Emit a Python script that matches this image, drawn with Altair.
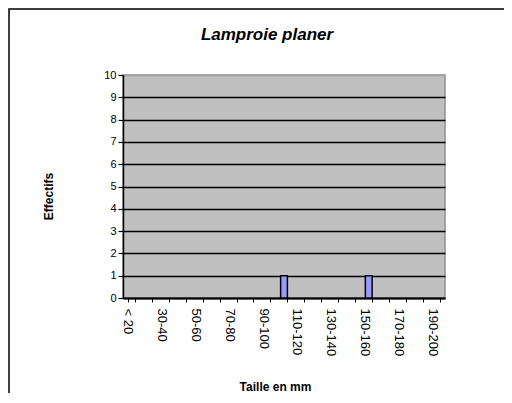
import altair as alt
import pandas as pd

categories = ["< 20", "20-30", "30-40", "40-50", "50-60", "60-70", "70-80",
              "80-90", "90-100", "100-110", "110-120", "120-130", "130-140",
              "140-150", "150-160", "160-170", "170-180", "180-190", "190-200"]
effectifs = [0, 0, 0, 0, 0, 0, 0, 0, 0, 1, 0, 0, 0, 0, 1, 0, 0, 0, 0]
y_ticks = [0, 1, 2, 3, 4, 5, 6, 7, 8, 9, 10]
chart_title = ["Lamproie planer"]

df = pd.DataFrame({"classe": categories, "n": effectifs})

cat_js = "[" + ",".join("'" + c + "'" for c in categories) + "]"
label_expr = f"indexof({cat_js}, datum.value) % 2 === 0 ? datum.value : ''"

FONT = "Liberation Sans"

bars = alt.Chart(df).transform_filter("datum.n > 0").mark_bar(
    color="#9999ff", stroke="black", strokeWidth=1.5
).encode(
    x=alt.X("classe:N", sort=categories,
            scale=alt.Scale(domain=categories, paddingInner=0.6, paddingOuter=0.3),
            axis=alt.Axis(title="Taille en mm", labelAngle=90, labelExpr=label_expr,
                          tickBand="extent", labelOffset=-4, tickSize=4,
                          labelPadding=6, labelFontSize=13, labelFont=FONT,
                          labelColor="black", domainColor="black", domainWidth=2,
                          tickColor="black", titleFont=FONT, titleFontSize=12,
                          titleFontWeight="bold", titlePadding=26, titleColor="black",
                          titleX=152, grid=False)),
    y=alt.Y("n:Q", scale=alt.Scale(domain=[0, 10], nice=False),
            axis=alt.Axis(title="Effectifs", values=y_ticks, tickSize=5,
                          labelPadding=2, labelFontSize=11, labelFont=FONT,
                          labelColor="black", domainColor="black", domainWidth=1.5,
                          tickColor="black", tickWidth=1.2,
                          gridColor=alt.condition("datum.value === 10", alt.value("#a0a0a0"), alt.value("black")),
                          gridWidth=1.5, titleFont=FONT, titleFontSize=12,
                          titleFontWeight="bold", titleColor="black", titlePadding=48,
                          titleY=121)),
)

frame = alt.Chart(pd.DataFrame({"a": [0]})).mark_rect(
    fill=None, stroke="black", strokeWidth=1.5
).encode(x=alt.value(-114), x2=alt.value(900), y=alt.value(-66), y2=alt.value(900))

title = alt.Chart(pd.DataFrame({"t": chart_title})).mark_text(
    font=FONT, fontSize=17, fontWeight="bold", fontStyle="italic", color="black",
    align="center", baseline="alphabetic"
).encode(text="t:N", x=alt.value(144), y=alt.value(-35))

chart = alt.layer(bars, frame, title).properties(
    width=322, height=223,
    padding={"left": 115, "top": 67, "right": 59, "bottom": 95},
    autosize=alt.AutoSizeParams(type="none"),
).configure_view(fill="#c0c0c0", stroke="#909090", strokeWidth=1.5)

chart.save("out.html", embed_options={"renderer": "svg", "actions": False})
